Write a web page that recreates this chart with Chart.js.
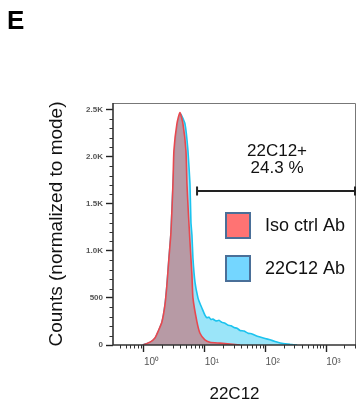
<!DOCTYPE html>
<html>
<head>
<meta charset="utf-8">
<script src="https://cdn.jsdelivr.net/npm/chart.js@4.4.1/dist/chart.umd.min.js"></script>
<style>
  html, body { margin: 0; padding: 0; background: #fff; }
</style>
</head>
<body>
<canvas id="histChart" width="357" height="406"></canvas>
<script>
// Fluorescence intensity (22C12) and counts normalized to mode
const isoX = [0.96, 1.26, 1.52, 1.70, 1.98, 2.22, 2.39, 2.58, 2.79, 3.01,
              3.12, 3.50, 3.92, 4.39, 4.92, 5.11, 5.40, 5.73, 6.18, 6.42,
              7.47, 8.38, 10.1, 12.2, 17.9, 26.2, 38.2];
const isoY = [0, 30, 75, 140, 245, 425, 635, 920, 1200, 1716,
              2066, 2350, 2468, 2350, 2066, 1716, 1400, 1100, 740, 500,
              245, 125, 55, 30, 20, 10, 0];
const abX = [0.96, 1.26, 1.52, 1.70, 1.98, 2.22, 2.39, 2.58, 2.79, 3.01,
             3.24, 3.63, 4.07, 4.74, 5.31, 5.73, 5.95, 6.18, 6.42, 6.93,
             7.76, 8.38, 9.04, 10.1, 10.9, 11.8, 12.7, 13.7, 15.4, 17.2,
             19.3, 21.6, 24.3, 27.2, 30.4, 34.1, 38.2, 44.5, 51.8, 60.3,
             70.2, 81.7, 98.7, 119, 144, 175, 211, 255, 333];
const abY = [0, 28, 70, 135, 240, 420, 630, 910, 1190, 1690,
             2080, 2360, 2450, 2350, 2066, 1716, 1300, 1165, 920, 667,
             500, 440, 390, 318, 290, 296, 270, 275, 255, 262,
             240, 232, 210, 205, 185, 178, 155, 148, 125, 118,
             98, 85, 70, 55, 38, 22, 14, 7, 0];
const seriesLabels = ['Iso ctrl Ab', '22C12 Ab'];

const xTickValues = [1, 10, 100, 1000];
const xTickLabels = ['10\u2070', '10\u00b9', '10\u00b2', '10\u00b3'];
const xMinorTicks = [0.4, 0.5, 0.6, 0.7, 0.8, 0.9,
                     2, 3, 4, 5, 6, 7, 8, 9,
                     20, 30, 40, 50, 60, 70, 80, 90,
                     200, 300, 400, 500, 600, 700, 800, 900,
                     2000, 3000];
const yTickValues = [0, 500, 1000, 1500, 2000, 2500];
const yTickLabels = ['0', '500', '1.0K', '1.5K', '2.0K', '2.5K'];
const yMinorTicks = [100, 200, 300, 400, 600, 700, 800, 900, 1100, 1200, 1300, 1400,
                     1600, 1700, 1800, 1900, 2100, 2200, 2300, 2400];

const gateRange = [7.5, 3100];
const gateText = ['22C12+', '24.3 %'];
const panelLetter = 'E';

const legendFill = ['#ff7373', '#74d6ff'];
const sans = "'Liberation Sans', Arial, sans-serif";

function toPoints(xs, ys) {
  return xs.map((x, i) => ({ x: x, y: ys[i] }));
}

// frame, minor ticks, gate, legend and panel letter
const extrasPlugin = {
  id: 'extras',
  afterDraw(chart) {
    const ctx = chart.ctx;
    const area = chart.chartArea;
    const xs = chart.scales.x;
    const ys = chart.scales.y;
    ctx.save();

    // plot frame
    ctx.lineWidth = 1;
    ctx.strokeStyle = '#777';
    ctx.beginPath();
    ctx.moveTo(area.left, area.top + 0.5);
    ctx.lineTo(area.right - 0.5, area.top + 0.5);
    ctx.lineTo(area.right - 0.5, area.bottom);
    ctx.stroke();
    ctx.lineWidth = 1.6;
    ctx.strokeStyle = '#333';
    ctx.beginPath();
    ctx.moveTo(area.left, area.top);
    ctx.lineTo(area.left, area.bottom);
    ctx.lineTo(area.right, area.bottom);
    ctx.stroke();

    // minor ticks
    ctx.lineWidth = 1;
    ctx.strokeStyle = '#333';
    ctx.beginPath();
    xMinorTicks.forEach(v => {
      const px = Math.round(xs.getPixelForValue(v)) + 0.5;
      ctx.moveTo(px, area.bottom);
      ctx.lineTo(px, area.bottom + 3.5);
    });
    yMinorTicks.forEach(v => {
      const py = Math.round(ys.getPixelForValue(v)) + 0.5;
      ctx.moveTo(area.left - 3.5, py);
      ctx.lineTo(area.left, py);
    });
    ctx.stroke();

    // positive gate
    const gx1 = xs.getPixelForValue(gateRange[0]);
    const gx2 = Math.min(xs.getPixelForValue(gateRange[1]), area.right - 1);
    const gy = area.top + 88;
    ctx.strokeStyle = '#222';
    ctx.lineWidth = 2;
    ctx.beginPath();
    ctx.moveTo(gx1, gy);
    ctx.lineTo(gx2, gy);
    ctx.moveTo(gx1, gy - 4.5);
    ctx.lineTo(gx1, gy + 4.5);
    ctx.moveTo(gx2, gy - 4.5);
    ctx.lineTo(gx2, gy + 4.5);
    ctx.stroke();
    ctx.fillStyle = '#111';
    ctx.font = '17px ' + sans;
    ctx.textAlign = 'center';
    ctx.textBaseline = 'alphabetic';
    const gcx = (gx1 + gx2) / 2 + 1;
    ctx.fillText(gateText[0], gcx, gy - 35);
    ctx.fillText(gateText[1], gcx, gy - 18);

    // legend
    ctx.textAlign = 'left';
    ctx.textBaseline = 'middle';
    ctx.font = '18px ' + sans;
    seriesLabels.forEach((label, i) => {
      const by = area.top + 110 + i * 43;
      ctx.fillStyle = legendFill[i];
      ctx.fillRect(226, by, 24, 25);
      ctx.strokeStyle = '#4a6f98';
      ctx.lineWidth = 2;
      ctx.strokeRect(226, by, 24, 25);
      ctx.fillStyle = '#111';
      ctx.fillText(label, 265, by + 13);
    });

    // panel letter
    ctx.font = 'bold 26px ' + sans;
    ctx.textBaseline = 'top';
    ctx.fillStyle = '#000';
    ctx.fillText(panelLetter, 7, 9);
    ctx.restore();
  }
};

const ctx = document.getElementById('histChart').getContext('2d');
const histChart = new Chart(ctx, {
  type: 'line',
  data: {
    datasets: [{
      label: seriesLabels[0],
      data: toPoints(isoX, isoY),
      borderColor: '#e8484f',
      backgroundColor: 'rgba(184, 150, 160, 0.95)',
      borderWidth: 1.6,
      fill: 'origin',
      tension: 0.2
    }, {
      label: seriesLabels[1],
      data: toPoints(abX, abY),
      borderColor: '#1cc3ee',
      backgroundColor: '#9be5f9',
      borderWidth: 1.6,
      fill: 'origin',
      tension: 0.1
    }]
  },
  options: {
    responsive: false,
    animation: false,
    layout: { padding: { top: 103, right: 1, left: 0, bottom: 0 } },
    elements: { point: { radius: 0 } },
    plugins: {
      legend: { display: false },
      tooltip: { enabled: false }
    },
    scales: {
      x: {
        type: 'logarithmic',
        min: 0.31,
        max: 3100,
        bounds: 'data',
        afterBuildTicks: s => { s.ticks = xTickValues.map(v => ({ value: v })); },
        afterFit: s => { s.height = 61; },
        border: { display: false },
        grid: { drawOnChartArea: false, tickLength: 7, tickColor: '#222', tickWidth: 1.4 },
        ticks: {
          autoSkip: false,
          maxRotation: 0,
          align: 'start',
          padding: 4,
          color: '#555',
          font: { size: 10, family: sans },
          callback: v => xTickLabels[xTickValues.indexOf(v)]
        },
        title: {
          display: true,
          text: '22C12',
          color: '#111',
          font: { size: 17, family: sans },
          padding: { top: 0, bottom: 1 }
        }
      },
      y: {
        min: 0,
        max: 2570,
        afterBuildTicks: s => { s.ticks = yTickValues.map(v => ({ value: v })); },
        afterFit: s => { s.width = 113; },
        border: { display: false },
        grid: { drawOnChartArea: false, tickLength: 7, tickColor: '#222', tickWidth: 1.4 },
        ticks: {
          padding: 3,
          color: '#555',
          font: { size: 8, family: sans, weight: 'bold' },
          callback: v => yTickLabels[yTickValues.indexOf(v)]
        },
        title: {
          display: true,
          text: 'Counts (normalized to mode)',
          color: '#111',
          font: { size: 19, family: sans },
          padding: { top: 45, bottom: 0 }
        }
      }
    }
  },
  plugins: [extrasPlugin]
});
</script>
</body>
</html>
